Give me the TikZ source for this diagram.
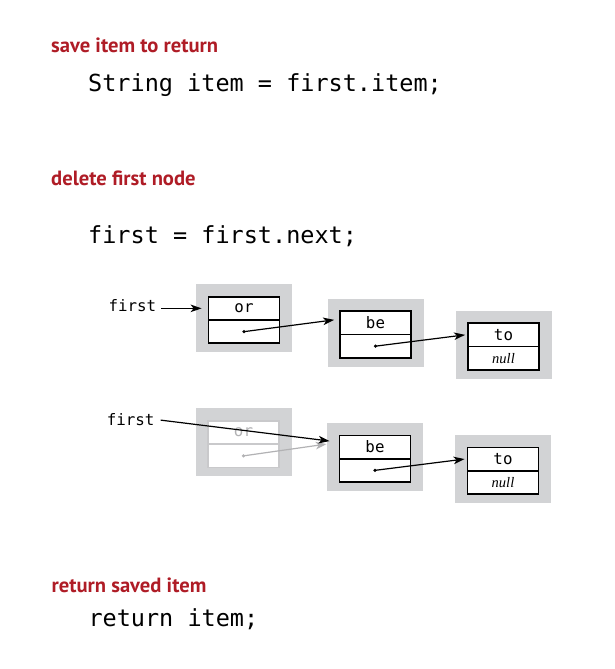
\documentclass[tikz,border=0pt]{standalone}
\usepackage{fontspec}
\setmainfont{PT Sans}
\newfontfamily\codefont{DejaVu Sans Mono}
\newfontfamily\italserif{Liberation Serif}
\usetikzlibrary{arrows.meta,calc}
\definecolor{labred}{RGB}{175,28,38}
\definecolor{boxgray}{RGB}{210,211,213}
\definecolor{fadegray}{RGB}{178,178,180}
\begin{document}
\begin{tikzpicture}[x=1pt,y=-1pt,
  heading/.style={anchor=base west, inner sep=0, text=labred, font=\fontsize{20.6}{23}\selectfont\bfseries},
  code/.style={anchor=base west, inner sep=0, font=\codefont\fontsize{23.5}{26}\selectfont},
  ptr/.style={anchor=base west, inner sep=0, font=\codefont\fontsize{15.8}{18}\selectfont},
  graybox/.style={fill=boxgray, draw=none, minimum width=96pt, minimum height=68pt, inner sep=0},
  cell/.style={draw=black, fill=white, line width=1.8pt, minimum width=71pt, minimum height=23.3pt, inner sep=0, font=\codefont\fontsize{15.8}{18}\selectfont},
  fadecell/.style={cell, draw=fadegray!70, text=fadegray},
  nullcell/.style={cell, font=\italserif\itshape\fontsize{14.5}{16}\selectfont},
  link/.style={line width=1.2pt, -{Stealth[length=11pt,width=7.5pt,inset=3pt]}},
  fadelink/.style={link, color=fadegray},
  dot/.style={circle, fill=black, inner sep=0, minimum size=3.6pt},
  fadedot/.style={dot, fill=fadegray},
]
\useasboundingbox (0,0) rectangle (614,669);

% texts
\node[heading] (h1) at (51,52.5) {save item to return};
\node[code] (c1) at (88,91.7) {String item = first.item;};
\node[heading] (h2) at (51,185.5) {delete first node};
\node[code] (c2) at (88,243) {first = first.next;};
\node[heading] (h3) at (51.5,592) {return saved item};
\node[code] (c3) at (88.3,626) {return item;};

% ---- row 1 ----
\node[graybox] (g1) at (244,318) {};
\node[graybox] (g2) at (375.5,332.5) {};
\node[graybox] (g3) at (503.5,344.5) {};
\node[cell] (t1) at (244,308.35) {or};
\node[cell] (b1) at (244,331.65) {};
\node[cell] (t2) at (375.5,322.85) {be};
\node[cell] (b2) at (375.5,346.15) {};
\node[cell] (t3) at (503.5,334.85) {to};
\node[nullcell] (b3) at (503.5,358.15) {null};
\node[dot] (d1) at (b1.center) {};
\node[dot] (d2) at (b2.center) {};
\node[ptr] (f1) at (108.3,311.7) {first};
\path (f1.east) ++(5,0) coordinate (f1s);
\draw[link] (f1s |- t1.west) -- ([xshift=-6pt]t1.west);
\draw[link] (d1.center) -- ([xshift=-5pt,yshift=3pt]t2.west);
\draw[link] (d2.center) -- ([xshift=-2pt]t3.west);

% ---- row 2 ----
\node[graybox] (g4) at (243.5,442.2) {};
\node[graybox] (g5) at (375,456.7) {};
\node[graybox] (g6) at (503,468.7) {};
\node[fadecell] (t4) at (243.5,432.55) {or};
\node[fadecell] (b4) at (243.5,455.85) {};
\node[cell] (t5) at (375,447.05) {be};
\node[cell] (b5) at (375,470.35) {};
\node[cell] (t6) at (503,459.05) {to};
\node[nullcell] (b6) at (503,482.35) {null};
\node[fadedot] (d4) at (b4.center) {};
\node[dot] (d5) at (b5.center) {};
\node[ptr] (f2) at (106.7,425) {first};
\path (f2.east) ++(6,1) coordinate (f2s);
\draw[fadelink] (d4.center) -- ([xshift=-12pt,yshift=3pt]t5.west);
\draw[link] (f2s) -- ([xshift=-9pt,yshift=6pt]t5.west);
\draw[link] (d5.center) -- ([xshift=-2pt]t6.west);
\end{tikzpicture}
\end{document}
